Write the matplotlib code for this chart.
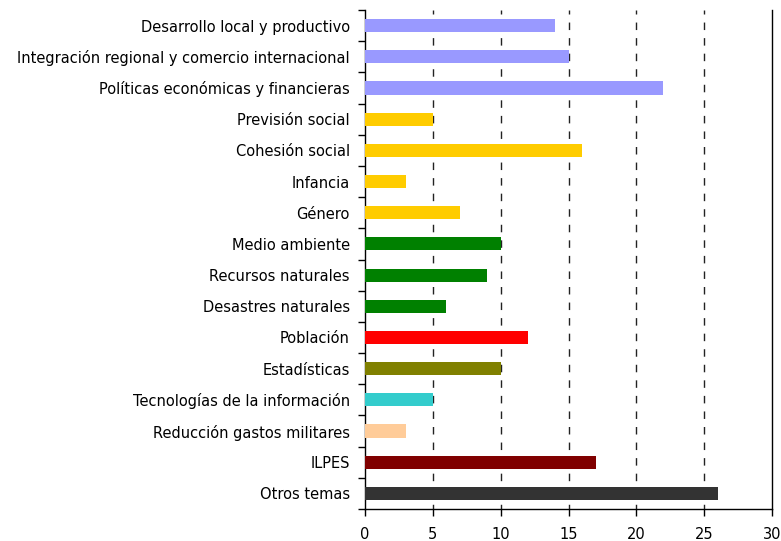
import matplotlib
matplotlib.use("Agg")
import matplotlib.pyplot as plt

categories = ["Desarrollo local y productivo",
              "Integración regional y comercio internacional",
              "Políticas económicas y financieras",
              "Previsión social", "Cohesión social", "Infancia", "Género",
              "Medio ambiente", "Recursos naturales", "Desastres naturales",
              "Población", "Estadísticas", "Tecnologías de la información",
              "Reducción gastos militares", "ILPES", "Otros temas"]
values = [14, 15, 22, 5, 16, 3, 7, 10, 9, 6, 12, 10, 5, 3, 17, 26]
colors = ["#9999FF", "#9999FF", "#9999FF", "#FFCC00", "#FFCC00", "#FFCC00",
          "#FFCC00", "#008000", "#008000", "#008000", "#FF0000", "#808000",
          "#33CCCC", "#FFCC99", "#800000", "#333333"]
xticks = [0, 5, 10, 15, 20, 25, 30]

plt.rcParams['font.family'] = ['DejaVu Sans']
fig = plt.figure(figsize=(7.81, 5.41), dpi=100)
ax = fig.add_axes([365/781, 1 - 509/541, (772-365)/781, (509-10)/541])

n = len(categories)
ypos = list(range(n))
ax.barh(ypos, values, height=0.42, color=colors, zorder=3)
ax.set_ylim(n - 0.5, -0.5)
ax.set_xlim(0, 30)
ax.set_xticks(xticks)
ax.set_xticklabels([str(t) for t in xticks], fontsize=10.5)
ax.set_yticks(ypos)
ax.set_yticklabels(categories, fontsize=10.5)
ax.tick_params(axis='y', length=0, pad=11)
ax.set_yticks([i - 0.5 for i in range(n + 1)], minor=True)
ax.tick_params(axis='y', which='minor', length=5, direction='out', width=1)
ax.tick_params(axis='x', length=5, direction='out', width=1, pad=8)
for t in xticks[1:-1]:
    ax.axvline(t, color='#222222', linestyle=(2, (5.4, 5.8)), linewidth=1.0, zorder=1)
ax.spines['top'].set_visible(False)
for s in ['left', 'bottom', 'right']:
    ax.spines[s].set_linewidth(1)
fig.savefig("out.png", dpi=100)
